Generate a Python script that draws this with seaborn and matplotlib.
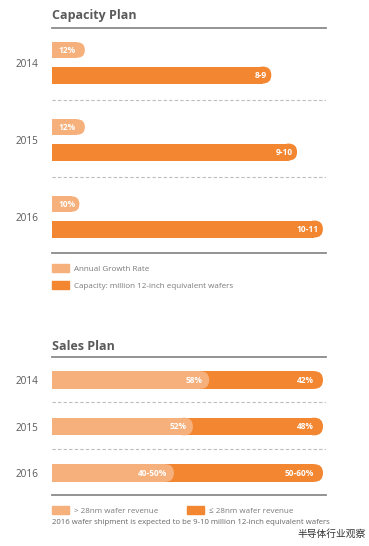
import pandas as pd
import matplotlib
matplotlib.use('Agg')
import matplotlib.pyplot as plt
import seaborn as sns
from matplotlib.patches import Patch, FancyBboxPatch
from matplotlib.transforms import IdentityTransform

# chart values
years = ['2014', '2015', '2016']
growth_pct = [12, 12, 10]
growth_labels = ['12%', '12%', '10%']
capacity_mid = [8.5, 9.5, 10.5]
capacity_labels = ['8-9', '9-10', '10-11']
sales_gt28 = [58, 52, 45]
sales_le28 = [42, 48, 55]
sales_gt28_labels = ['58%', '52%', '40-50%']
sales_le28_labels = ['42%', '48%', '50-60%']

LIGHT = '#F6B07C'
DARK = '#F28631'
GRAY = '#8a8a8a'
TXT = '#5a5a5a'

sns.set_theme(style='white')
plt.rcParams['font.family'] = ['Open Sans', 'Noto Sans CJK SC', 'DejaVu Sans']

W, H = 369, 546
fig = plt.figure(figsize=(W / 100, H / 100), dpi=100)


def box(x0, y0, x1, y1):
    # pixel box (top-left origin) -> figure fraction
    return [x0 / W, 1 - y1 / H, (x1 - x0) / W, (y1 - y0) / H]


def style_panel(ax, ymin, ymax):
    ax.set_ylim(ymax, ymin)
    for s in ['left', 'right']:
        ax.spines[s].set_visible(False)
    for s in ['top', 'bottom']:
        ax.spines[s].set_color(GRAY)
        ax.spines[s].set_linewidth(1.3)
    ax.set_xticks([])
    ax.set_xlabel('')
    ax.set_ylabel('')
    ax.tick_params(axis='y', length=0, pad=10, labelsize=7.2, labelcolor=TXT)


def round_ends(ax):
    # give every bar a rounded right end, like the original infographic
    for p in list(ax.patches):
        w = p.get_width()
        pts = ax.transData.transform([(p.get_x(), p.get_y()),
                                      (p.get_x() + w, p.get_y() + p.get_height())])
        px0, px1 = sorted(pts[:, 0])
        py0, py1 = sorted(pts[:, 1])
        r = (py1 - py0) / 2
        p.set_width(w * (px1 - px0 - r) / (px1 - px0))
        cap = FancyBboxPatch((px1 - 2 * r, py0), 2 * r, py1 - py0,
                             boxstyle=f'round,pad=0,rounding_size={r}',
                             transform=IdentityTransform(), fc=p.get_facecolor(),
                             ec='none', lw=0, zorder=p.get_zorder())
        ax.add_artist(cap)


# ---------------- Capacity plan ----------------
cap = pd.DataFrame({'year': years, 'growth': growth_pct, 'capacity': capacity_mid})
cap['pos'] = range(len(cap))
off = 0.325

ax1 = fig.add_axes(box(52, 28, 326, 253))
sns.barplot(data=cap.assign(pos=cap['pos'] + off), x='capacity', y='pos', orient='h',
            native_scale=True, width=0.22, color=DARK, saturation=1, errorbar=None,
            linewidth=0, ax=ax1)
ax1.set_xlim(0, 10.62)
style_panel(ax1, -0.286, 2.636)
ax1.set_yticks(cap['pos'] + off / 2, years)

axg = ax1.twiny()
sns.barplot(data=cap, x='growth', y='pos', orient='h', native_scale=True, width=0.2,
            color=LIGHT, saturation=1, errorbar=None, linewidth=0, ax=axg)
axg.set_xlim(0, 100)
axg.set_ylim(2.636, -0.286)
axg.axis('off')
round_ends(ax1)
round_ends(axg)

for i, row in cap.iterrows():
    ax1.text(row['capacity'] - 0.17, row['pos'] + off, capacity_labels[i], color='white',
             fontsize=6, ha='right', va='center', fontweight='bold', zorder=5)
    axg.text(2.2, row['pos'], growth_labels[i], color='white', fontsize=6,
             ha='left', va='center', fontweight='bold', zorder=5)
for y in cap['pos'][:-1] + 0.65:
    ax1.axhline(y, color='#bdbdbd', lw=0.8, ls=(0, (3, 2)))

fig.text(52 / W, 1 - 16 / H, 'Capacity Plan', fontsize=9, fontweight='bold',
         color=TXT, va='center', ha='left')
ax1.legend(handles=[Patch(color=LIGHT), Patch(color=DARK)],
           labels=['Annual Growth Rate', 'Capacity: million 12-inch equivalent wafers'],
           loc='upper left', bbox_to_anchor=(0, -0.048), frameon=False, fontsize=5.8,
           handlelength=2.1, handleheight=1.2, handletextpad=0.6, labelspacing=1.0,
           borderaxespad=0, borderpad=0, labelcolor='#7a7a7a')

# ---------------- Sales plan ----------------
sales = pd.DataFrame({'year': years, 'gt28': sales_gt28, 'le28': sales_le28})
sales['total'] = sales['gt28'] + sales['le28']
sales['pos'] = range(len(sales))

ax2 = fig.add_axes(box(52, 357, 326, 495))
sns.barplot(data=sales, x='total', y='pos', orient='h', native_scale=True, width=0.38,
            color=DARK, saturation=1, errorbar=None, linewidth=0, ax=ax2)
sns.barplot(data=sales, x='gt28', y='pos', orient='h', native_scale=True, width=0.38,
            color=LIGHT, saturation=1, errorbar=None, linewidth=0, ax=ax2)
ax2.set_xlim(0, 101.1)
style_panel(ax2, -0.495, 2.473)
ax2.set_yticks(sales['pos'], years)
round_ends(ax2)

for i, row in sales.iterrows():
    ax2.text(row['gt28'] - 2.5, row['pos'], sales_gt28_labels[i], color='white',
             fontsize=6, ha='right', va='center', fontweight='bold', zorder=5)
    ax2.text(row['total'] - 3.5, row['pos'], sales_le28_labels[i], color='white',
             fontsize=6, ha='right', va='center', fontweight='bold', zorder=5)
for y in sales['pos'][:-1] + 0.48:
    ax2.axhline(y, color='#bdbdbd', lw=0.8, ls=(0, (3, 2)))

fig.text(52 / W, 1 - 346 / H, 'Sales Plan', fontsize=9, fontweight='bold',
         color=TXT, va='center', ha='left')
ax2.legend(handles=[Patch(color=LIGHT), Patch(color=DARK)],
           labels=['> 28nm wafer revenue', '\u2264 28nm wafer revenue'],
           loc='upper left', bbox_to_anchor=(0, -0.08), frameon=False, fontsize=5.8, ncol=2,
           handlelength=2.1, handleheight=1.2, handletextpad=0.6, columnspacing=3.6,
           borderaxespad=0, borderpad=0, labelcolor='#7a7a7a')

fig.text(52 / W, 1 - 522 / H,
         '2016 wafer shipment is expected to be 9-10 million 12-inch equivalent wafers',
         fontsize=5.6, color='#666666', va='center', ha='left')
fig.text(297 / W, 1 - 534 / H, '半导体行业观察', fontsize=7, color='#333333',
         va='center', ha='left', family=['Noto Sans CJK SC', 'DejaVu Sans'])

fig.savefig('out.png', dpi=100)
